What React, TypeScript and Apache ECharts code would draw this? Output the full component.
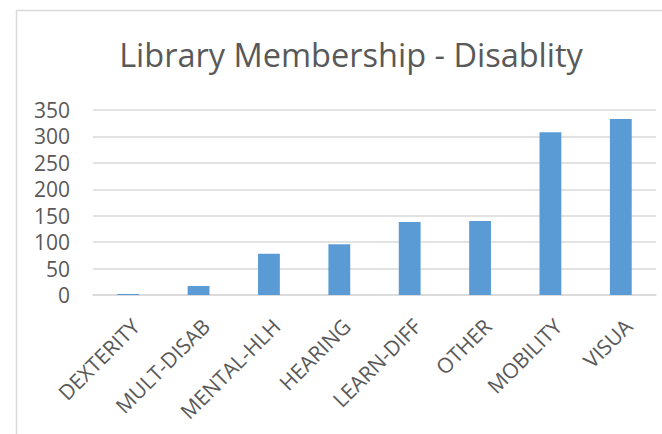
import React, { useEffect, useRef } from "react";
import * as echarts from "echarts";

const categories = ["DEXTERITY", "MULT-DISAB", "MENTAL-HLH", "HEARING", "LEARN-DIFF", "OTHER", "MOBILITY", "VISUA"];
const members = [2, 17, 78, 96, 138, 140, 308, 333];
const yTicks = { min: 0, max: 350, interval: 50 };
const titleText = "Library Membership - Disablity";

export default function App() {
  const ref = useRef<HTMLDivElement>(null);
  useEffect(() => {
    document.body.style.margin = "0";
    const chart = echarts.init(ref.current!, null, { renderer: "svg" });
    chart.setOption({
      animation: false,
      backgroundColor: "#ffffff",
      title: {
        text: titleText,
        left: 346,
        top: 33,
        textAlign: "center",
        textStyle: { fontFamily: "Open Sans", fontSize: 32.5, fontWeight: "normal", color: "#595959" },
      },
      graphic: [
        {
          type: "rect",
          shape: { x: 16.5, y: 10.5, width: 800, height: 600 },
          style: { fill: "none", stroke: "#d9d9d9", lineWidth: 1.5 },
          silent: true,
        },
      ],
      grid: { left: 93, right: 6, top: 110, bottom: 139, containLabel: false },
      xAxis: {
        type: "category",
        data: categories,
        axisLine: { lineStyle: { color: "#d9d9d9", width: 1.5 } },
        axisTick: { show: false },
        axisLabel: {
          rotate: 45,
          interval: 0,
          margin: 20,
          align: "right",
          verticalAlign: "top",
          fontFamily: "Open Sans",
          fontSize: 21,
          color: "#595959",
        },
      },
      yAxis: {
        type: "value",
        min: yTicks.min,
        max: yTicks.max,
        interval: yTicks.interval,
        axisLine: { show: false },
        axisTick: { show: false },
        splitLine: { lineStyle: { color: "#d9d9d9", width: 1.5 } },
        axisLabel: { fontFamily: "Open Sans", fontSize: 21, color: "#595959", margin: 23 },
      },
      series: [
        {
          type: "bar",
          data: members,
          barWidth: "31%",
          itemStyle: { color: "#5b9bd5" },
        },
      ],
    });
    return () => chart.dispose();
  }, []);
  return <div ref={ref} style={{ position: "fixed", left: 0, top: 0, width: 662, height: 434 }} />;
}
